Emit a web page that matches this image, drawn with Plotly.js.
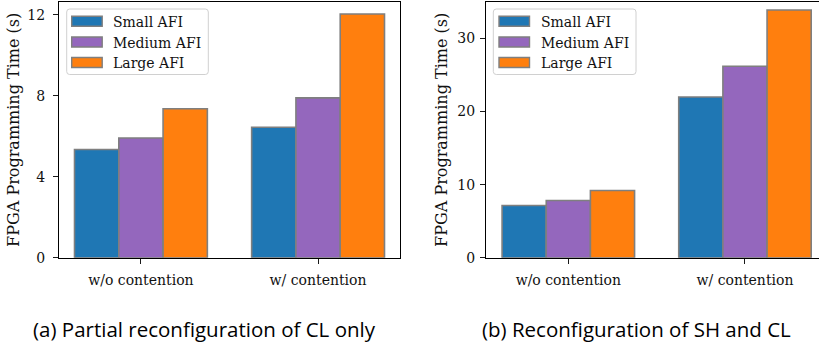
<!DOCTYPE html>
<html>
<head>
<meta charset="utf-8">
<script src="https://cdn.plot.ly/plotly-3.0.1.min.js"></script>
<style>html,body{margin:0;padding:0;background:#fff;}#chart{width:819px;height:347px;}</style>
</head>
<body>
<div id="chart"></div>
<script>
// Scenarios on the x axis
const categories = ['w/o contention', 'w/ contention'];
const seriesNames = ['Small AFI', 'Medium AFI', 'Large AFI'];

// (a) Partial reconfiguration of CL only — programming time in seconds
const clSmall = [5.35, 6.45];
const clMedium = [5.92, 7.90];
const clLarge = [7.36, 12.05];

// (b) Reconfiguration of SH and CL — programming time in seconds
const shSmall = [7.15, 22.0];
const shMedium = [7.83, 26.2];
const shLarge = [9.19, 33.9];

const leftTicks = [0, 4, 8, 12];
const rightTicks = [0, 10, 20, 30];

const colors = ['#1f77b4', '#9467bd', '#ff7f0e'];
const edge = '#7f7f7f';
const serif = 'DejaVu Serif, Liberation Serif, serif';
const W = 819, H = 347;

// pixel -> paper helpers
const px = v => v / W;
const py = v => (H - v) / H;

function barTrace(name, values, idx, xa, ya) {
  return {
    type: 'bar', name: name, x: categories, y: values,
    xaxis: xa, yaxis: ya, showlegend: false,
    marker: {color: colors[idx], line: {color: edge, width: 1.6}},
    hoverinfo: 'y'
  };
}

const traces = [
  barTrace(seriesNames[0], clSmall, 0, 'x', 'y'),
  barTrace(seriesNames[1], clMedium, 1, 'x', 'y'),
  barTrace(seriesNames[2], clLarge, 2, 'x', 'y'),
  barTrace(seriesNames[0], shSmall, 0, 'x2', 'y2'),
  barTrace(seriesNames[1], shMedium, 1, 'x2', 'y2'),
  barTrace(seriesNames[2], shLarge, 2, 'x2', 'y2')
];

const yBottom = py(257.7), yTop = py(2);

const axisCommon = {
  showline: true, mirror: true, linecolor: '#000', linewidth: 1,
  ticks: 'outside', ticklen: 5, tickwidth: 0.9, tickcolor: '#000',
  showgrid: false, zeroline: false,
  tickfont: {family: serif, size: 14, color: '#111'}
};

const titleFont = {family: serif, size: 16, color: '#111'};

// Legend box with rounded corners, swatches and labels, drawn in paper space
function legendParts(boxL, boxR, swL, swR, textX) {
  const top = 9, bot = 74.5, r = 3;
  const shapes = [];
  const path = [
    'M', px(boxL + r), py(top),
    'L', px(boxR - r), py(top),
    'Q', px(boxR), py(top), px(boxR), py(top + r),
    'L', px(boxR), py(bot - r),
    'Q', px(boxR), py(bot), px(boxR - r), py(bot),
    'L', px(boxL + r), py(bot),
    'Q', px(boxL), py(bot), px(boxL), py(bot - r),
    'L', px(boxL), py(top + r),
    'Q', px(boxL), py(top), px(boxL + r), py(top), 'Z'
  ].join(' ');
  shapes.push({type: 'path', xref: 'paper', yref: 'paper', path: path,
    fillcolor: 'rgba(255,255,255,0.85)', line: {color: '#d0d0d0', width: 1}});
  const annotations = [];
  const rows = [21.3, 42, 62.5];
  seriesNames.forEach((name, i) => {
    shapes.push({type: 'rect', xref: 'paper', yref: 'paper',
      x0: px(swL), x1: px(swR), y0: py(rows[i] - 5), y1: py(rows[i] + 5),
      fillcolor: colors[i], line: {color: edge, width: 1.4}});
    annotations.push({text: name, xref: 'paper', yref: 'paper',
      x: px(textX), y: py(rows[i] + 0.5), xanchor: 'left', yanchor: 'middle',
      showarrow: false, font: {family: serif, size: 14, color: '#111'}});
  });
  return {shapes, annotations};
}

const legA = legendParts(66.7, 208.3, 71.7, 102.2, 111);
const legB = legendParts(493.3, 636, 499, 529.5, 538.5);

const captionFont = {family: 'Open Sans, Noto Sans, sans-serif', size: 20.5, color: '#000'};

const layout = {
  width: W, height: H,
  margin: {l: 0, r: 0, t: 0, b: 0},
  paper_bgcolor: '#fff', plot_bgcolor: '#fff',
  barmode: 'group', bargap: 0.25, bargroupgap: 0,
  showlegend: false,
  xaxis: Object.assign({}, axisCommon, {
    domain: [px(59), px(400)], anchor: 'y', type: 'category',
    range: [-0.4625, 1.4625], ticklabelstandoff: 4
  }),
  yaxis: Object.assign({}, axisCommon, {
    domain: [yBottom, yTop], anchor: 'x', range: [0, 12.64],
    tickvals: leftTicks, ticklabelstandoff: 5,
    title: {text: 'FPGA Programming Time (s)', font: titleFont, standoff: 3}
  }),
  xaxis2: Object.assign({}, axisCommon, {
    domain: [px(486), 1], anchor: 'y2', type: 'category',
    range: [-0.466, 1.419], ticklabelstandoff: 4
  }),
  yaxis2: Object.assign({}, axisCommon, {
    domain: [yBottom, yTop], anchor: 'x2', range: [0, 35],
    tickvals: rightTicks, ticklabelstandoff: 2,
    title: {text: 'FPGA Programming Time (s)', font: titleFont, standoff: 5}
  }),
  shapes: legA.shapes.concat(legB.shapes),
  annotations: legA.annotations.concat(legB.annotations, [
    {text: '(a) Partial reconfiguration of CL only', xref: 'paper', yref: 'paper',
     x: px(204), y: py(329), xanchor: 'center', yanchor: 'middle', showarrow: false,
     font: captionFont},
    {text: '(b) Reconfiguration of SH and CL', xref: 'paper', yref: 'paper',
     x: px(636), y: py(329), xanchor: 'center', yanchor: 'middle', showarrow: false,
     font: captionFont}
  ])
};

Plotly.newPlot('chart', traces, layout, {displayModeBar: false, staticPlot: true});
</script>
</body>
</html>
